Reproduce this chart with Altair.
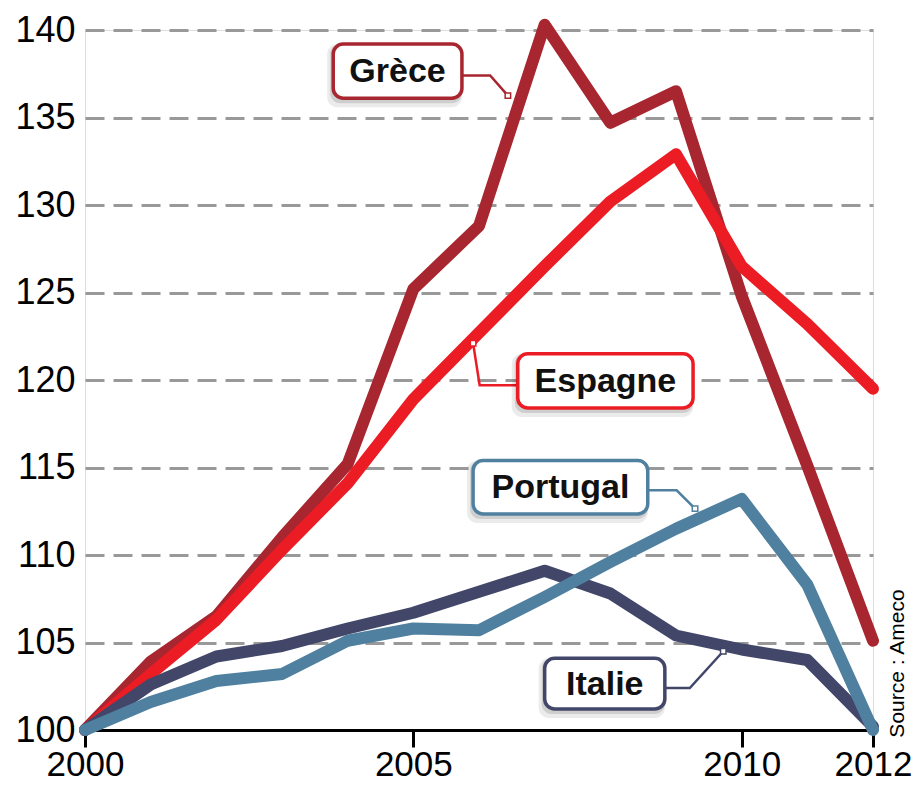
import altair as alt
import pandas as pd

# ---- data -------------------------------------------------------------
years = list(range(2000, 2013))
grece = [100, 103.9, 106.5, 111.0, 115.2, 125.2, 128.8, 140.3, 134.7, 136.5, 124.8, 115.1, 105.1]
espagne = [100, 103.2, 106.3, 110.3, 114.1, 118.9, 122.7, 126.5, 130.2, 132.9, 126.5, 123.2, 119.5]
italie = [100, 102.6, 104.2, 104.8, 105.8, 106.7, 107.9, 109.1, 107.8, 105.4, 104.6, 104.0, 100.2]
portugal = [100, 101.6, 102.8, 103.2, 105.1, 105.8, 105.7, 107.6, 109.6, 111.5, 113.2, 108.3, 100.0]

series_names = ["Grèce", "Espagne", "Italie", "Portugal"]
series_values = [grece, espagne, italie, portugal]
series_colors = ["#A8262F", "#EC1C24", "#424769", "#50809F"]

x_ticks = [2000, 2005, 2010, 2012]
y_ticks = [100, 105, 110, 115, 120, 125, 130, 135, 140]

# label boxes (data coordinates): x0, x1, y0, y1
label_boxes = {
    "Grèce": (2003.78, 2005.74, 136.1, 139.2),
    "Espagne": (2006.59, 2009.26, 118.4, 121.5),
    "Portugal": (2005.91, 2008.57, 112.35, 115.4),
    "Italie": (2007.0, 2008.83, 101.2, 104.1),
}
# connector polylines (data coordinates), last point sits on the series line
connectors = {
    "Grèce": [(2005.74, 137.4), (2006.17, 137.4), (2006.44, 136.25)],
    "Espagne": [(2006.59, 119.7), (2006.01, 119.7), (2005.91, 122.1)],
    "Portugal": [(2008.57, 113.7), (2009.01, 113.7), (2009.29, 112.65)],
    "Italie": [(2008.83, 102.4), (2009.21, 102.4), (2009.72, 104.5)],
}
source_text = "Source : Ameco"

# ---- tables -----------------------------------------------------------
lines_df = pd.DataFrame(
    [
        {"serie": n, "year": yr, "value": v}
        for n, vals in zip(series_names, series_values)
        for yr, v in zip(years, vals)
    ]
)
box_df = pd.DataFrame(
    [
        {"serie": n, "x0": b[0], "x1": b[1], "y0": b[2], "y1": b[3],
         "xc": (b[0] + b[1]) / 2, "yc": (b[2] + b[3]) / 2}
        for n, b in label_boxes.items()
    ]
)
conn_df = pd.DataFrame(
    [
        {"serie": n, "i": i, "x": p[0], "y": p[1]}
        for n, pts in connectors.items()
        for i, p in enumerate(pts)
    ]
)
dot_df = conn_df.groupby("serie").tail(1)
src_df = pd.DataFrame([{"x": 2012.38, "y": 103.8, "t": source_text}])

FONT = "Liberation Sans"

x_scale = alt.Scale(domain=[2000, 2012], nice=False, zero=False)
y_scale = alt.Scale(domain=[100, 140], nice=False, zero=False)
x_axis = alt.Axis(
    values=x_ticks, format="d", title=None, grid=False,
    domainColor="black", domainWidth=3, tickColor="black", tickWidth=3,
    tickSize=17, labelFontSize=35, labelColor="black", labelFont=FONT,
    labelPadding=0, labelFlush=False,
)
y_axis = alt.Axis(
    values=y_ticks, title=None, domain=False, ticks=False, tickSize=0,
    grid=True, gridDash=[19, 9], gridColor="#999999", gridWidth=3,
    labelFontSize=36, labelColor="black", labelFont=FONT, labelPadding=10,
)
color_scale = alt.Scale(domain=series_names, range=series_colors)


def X(field):
    return alt.X(field, type="quantitative", scale=x_scale, axis=x_axis)


def Y(field):
    return alt.Y(field, type="quantitative", scale=y_scale, axis=y_axis)


layers = []
for n, col in zip(series_names, series_colors):
    layers.append(
        alt.Chart(lines_df[lines_df.serie == n])
        .mark_line(color=col, strokeWidth=12, strokeJoin="round", strokeCap="round")
        .encode(x=X("year"), y=Y("value"), order="year:Q")
    )

connector_layer = (
    alt.Chart(conn_df)
    .mark_line(strokeWidth=2.5)
    .encode(
        x=X("x"), y=Y("y"), order="i:Q", detail="serie:N",
        color=alt.Color("serie:N", scale=color_scale, legend=None),
    )
)
dot_layer = (
    alt.Chart(dot_df)
    .mark_point(shape="square", size=30, filled=True, fill="white", strokeWidth=1.5, opacity=1)
    .encode(
        x=X("x"), y=Y("y"),
        stroke=alt.Stroke("serie:N", scale=color_scale, legend=None),
    )
)
shadow1 = (
    alt.Chart(box_df)
    .mark_rect(cornerRadius=10, fill="black", opacity=0.08, xOffset=-6, yOffset=9)
    .encode(x=X("x0"), x2="x1", y=Y("y0"), y2="y1")
)
shadow2 = (
    alt.Chart(box_df)
    .mark_rect(cornerRadius=10, fill="black", opacity=0.12, xOffset=-3, yOffset=5)
    .encode(x=X("x0"), x2="x1", y=Y("y0"), y2="y1")
)
box_layer = (
    alt.Chart(box_df)
    .mark_rect(cornerRadius=10, fill="white", strokeWidth=3.5)
    .encode(
        x=X("x0"), x2="x1", y=Y("y0"), y2="y1",
        stroke=alt.Stroke("serie:N", scale=color_scale, legend=None),
    )
)
text_layer = (
    alt.Chart(box_df)
    .mark_text(font=FONT, fontSize=34, fontWeight="bold", color="#111111",
               align="center", baseline="middle", dy=1)
    .encode(x=X("xc"), y=Y("yc"), text="serie:N")
)
source_layer = (
    alt.Chart(src_df)
    .mark_text(font="Liberation Sans Narrow, Liberation Sans", fontSize=21,
               angle=270, color="black", align="center", baseline="middle")
    .encode(x=X("x"), y=Y("y"), text="t:N")
)

chart = (
    alt.layer(*layers, connector_layer, dot_layer, shadow1, shadow2, box_layer,
              text_layer, source_layer)
    .properties(
        width=788, height=700,
        autosize=alt.AutoSizeParams(type="none"),
        padding={"left": 77, "top": 22, "right": 41, "bottom": 58},
    )
    .configure_view(stroke=None)
    .configure(background="white")
)

chart.save("out.html", embed_options={"renderer": "svg", "actions": False})
